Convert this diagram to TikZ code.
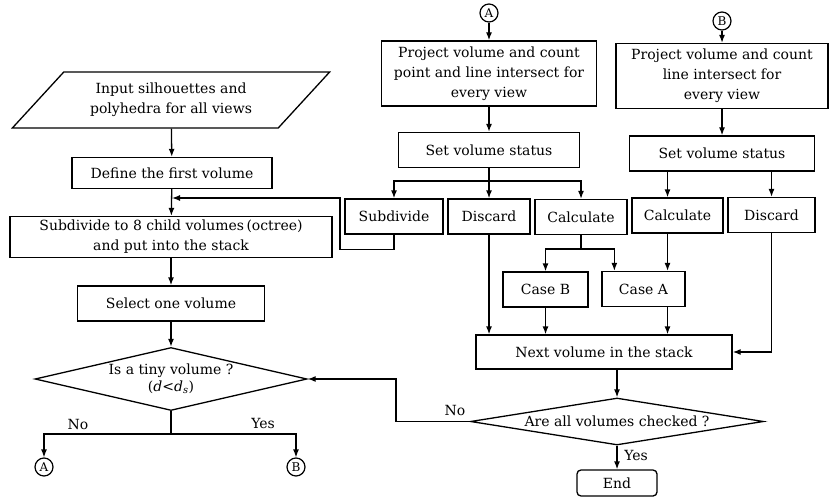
\documentclass[tikz,border=0pt]{standalone}
\usepackage{fontspec}
\setmainfont{DejaVu Serif}
\usetikzlibrary{arrows.meta,positioning,shapes.geometric}

\begin{document}
\begin{tikzpicture}[
  x=1pt, y=-1pt,
  font=\fontsize{14}{20}\selectfont,
  every node/.style={align=center},
  box/.style={draw, line width=1.3pt, inner sep=0pt, minimum height=35},
  io/.style={draw, line width=1.3pt, trapezium, trapezium left angle=41, trapezium right angle=139, trapezium stretches=true, inner sep=0pt},
  decision/.style={draw, line width=1.3pt, diamond, inner sep=0pt},
  term/.style={draw, line width=1.3pt, rounded corners=4pt, inner sep=0pt},
  conn/.style={draw, line width=1.2pt, circle, inner sep=0pt, minimum size=18, font=\fontsize{12}{12}\selectfont},
  arr/.style={-{Latex[length=8pt,width=6pt]}, line width=1.3pt},
  link/.style={line width=1.3pt}
]
\useasboundingbox (0,0) rectangle (829,497);

\node[io, minimum width=318, minimum height=56] (in) at (171,100) {Input silhouettes and\\polyhedra for all views};
\node[box, minimum width=200, minimum height=31] (def) at (172,173) {Define the first volume};
\node[box, minimum width=322, minimum height=41] (sub) at (171,237) {Subdivide to 8 child volumes\,(octree)\\and put into the stack};
\node[box, minimum width=187] (sel) at (171,303.5) {Select one volume};
\node[decision, aspect=4.3, minimum width=272, minimum height=63, font=\fontsize{14}{17}\selectfont] (tiny) at (171,379) {Is a tiny volume ?\\(\textit{d}<\textit{d}\textsubscript{\textit{s}})};
\coordinate (br) at (171,434);
\node[conn] (cA1) at (44,467) {A};
\node[conn] (cB1) at (296,467) {B};
\node (noL) at (78,424) {No};
\node (yesL) at (263,423) {Yes};

\node[conn] (cA2) at (489,13) {A};
\node[box, minimum width=215, minimum height=65] (proj1) at (489,73.5) {Project volume and count\\point and line intersect for\\every view};
\node[box, minimum width=181] (set1) at (489,150) {Set volume status};
\coordinate (split1) at (489,181);
\node[box, minimum width=98] (subd) at (394,216.5) {Subdivide};
\node[box, minimum width=82] (disc1) at (489,216.5) {Discard};
\node[box, minimum width=92] (calc1) at (581,217) {Calculate};
\coordinate (split2) at (581,249);
\node[box, minimum width=85] (caseB) at (545.5,289.5) {Case B};
\node[box, minimum width=83] (caseA) at (643.5,289) {Case A};
\coordinate (loopR) at (340,198);

\node[conn] (cB2) at (722,21) {B};
\node[box, minimum width=212, minimum height=65] (proj2) at (722,76) {Project volume and count\\line intersect for\\every view};
\node[box, minimum width=185] (set2) at (722,153.5) {Set volume status};
\node[box, minimum width=91] (calc2) at (677.5,215.5) {Calculate};
\node[box, minimum width=87] (disc2) at (771.5,215) {Discard};

\node[box, minimum width=256, minimum height=34] (next) at (604,352) {Next volume in the stack};
\node[decision, aspect=6.2, minimum width=293, minimum height=47] (done) at (617,421.5) {Are all volumes checked ?};
\node[term, minimum width=80, minimum height=26] (stop) at (617,483) {End};
\node (noR) at (455,410) {No};
\node (yesR) at (636,455) {Yes};

\draw[arr] (in) -- (def);
\draw[arr] (def) -- (sub);
\draw[arr] (sub) -- (sel);
\draw[arr] (sel) -- (tiny);
\draw[link] (tiny.south) -- (br);
\draw[arr] (br) -| (cA1.north);
\draw[arr] (br) -| (cB1.north);

\draw[arr] (cA2) -- (proj1);
\draw[arr] (proj1) -- (set1);
\draw[link] (set1.south) -- (split1);
\draw[arr] (split1) -| (subd.north);
\draw[arr] (split1) -- (disc1.north);
\draw[arr] (split1) -| (calc1.north);
\draw[link] (calc1.south) -- (split2);
\draw[arr] (split2) -| (caseB.north);
\draw[arr] (split2) -| ([xshift=13pt]caseA.north west);
\draw[arr] (subd.south) -- ++(0,15) -| (loopR) -- (loopR -| def.south);

\draw[arr] (cB2) -- (proj2);
\draw[arr] (proj2) -- (set2);
\draw[arr] ([xshift=-10pt]calc2.north |- set2.south) -- ([xshift=-10pt]calc2.north);
\draw[arr] (disc2.north |- set2.south) -- (disc2.north);
\draw[arr] ([xshift=-10pt]calc2.south) -- ([xshift=-10pt]calc2.south |- caseA.north);

\draw[arr] (disc1.south) -- (disc1.south |- next.north);
\draw[arr] (caseB.south) -- (caseB.south |- next.north);
\draw[arr] ([xshift=-10pt]calc2.south |- caseA.south) -- ([xshift=-10pt]calc2.south |- next.north);
\draw[arr] (disc2.south) |- (next.east);
\draw[arr] (done.north |- next.south) -- (done.north);
\draw[arr] (done.west) -- ++(-74,0) |- (tiny.east);
\draw[arr] (done.south) -- (stop.north);
\end{tikzpicture}
\end{document}
